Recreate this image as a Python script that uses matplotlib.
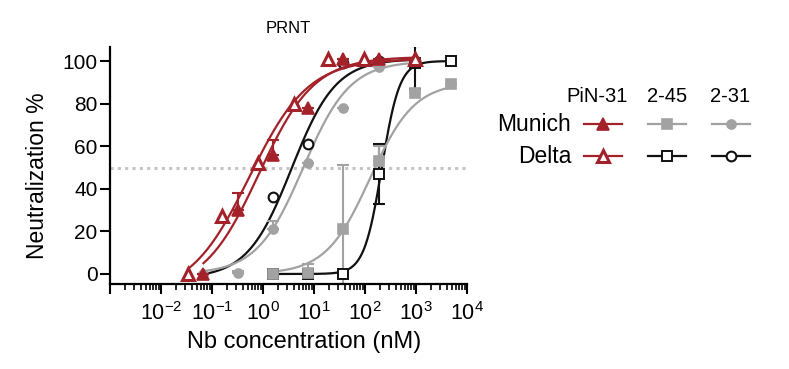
import numpy as np
import matplotlib
matplotlib.use('Agg')
import matplotlib.pyplot as plt
from matplotlib.lines import Line2D
from matplotlib.ticker import LogLocator, FuncFormatter, NullFormatter

plt.rcParams['font.family'] = ['Liberation Sans', 'DejaVu Sans']
plt.rcParams['mathtext.fontset'] = 'custom'
plt.rcParams['mathtext.rm'] = 'Liberation Sans'
plt.rcParams['mathtext.it'] = 'Liberation Sans:italic'

RED = '#a3222a'
GRAY = '#a2a2a2'
BLACK = '#111111'

# PiN-31
delta_pin_x = [0.034, 0.16, 0.79, 4.0, 19, 96, 960]
delta_pin_y = [0, 27, 52, 80, 101, 101, 101]
munich_pin_x = [0.068, 0.32, 1.55, 7.8, 37, 190, 960]
munich_pin_y = [0, 30, 56, 78, 101, 101, 101]
munich_pin_err = [0, 8, 7, 0, 0, 0, 0]

# 2-45
nb245_x = [1.55, 7.8, 37, 190, 960, 4800]
munich_245_y = [0, 0.5, 21, 53, 85, 89]
munich_245_lo = [0, 0, 30, 0, 0, 0]
munich_245_hi = [0, 4, 30, 7, 0, 0]
delta_245_y = [0, 0, 0, 47, 99, 100]
delta_245_lo = [0, 0, 0, 14, 12, 0]
delta_245_hi = [0, 0, 0, 14, 8, 0]

# 2-31
munich_231_x = [0.068, 0.32, 1.55, 7.8, 37, 190, 960]
munich_231_y = [0, 0.5, 21, 52, 78, 97, 100]
munich_231_err = [0, 1, 4, 0, 0, 0, 0]
delta_231_x = [1.55, 7.8, 37, 190, 960]
delta_231_y = [36, 61, 99, 100, 100]

# fitted 4PL curves: bottom, top, log10 IC50, hill slope, concentration range
fit_delta_pin = [-10, 101, -0.27, 0.75, 0.034, 960]
fit_munich_pin = [-8, 102, -0.08, 0.8, 0.068, 960]
fit_delta_231 = [-2, 101, 0.56, 1.0, 0.075, 960]
fit_munich_231 = [0, 100, 0.79, 0.95, 0.075, 960]
fit_munich_245 = [0, 90, 2.1, 1.0, 1.55, 4800]
fit_delta_245 = [0, 100, 2.33, 2.5, 1.55, 4800]


def four_pl(x, p):
    bottom, top, logc, hill = p[:4]
    return bottom + (top - bottom) / (1 + 10 ** (hill * (logc - np.log10(x))))


def draw_series(ax, x, y, fit, color, marker, face, ms, mew, z, lo=None, hi=None):
    xs = np.logspace(np.log10(fit[4]), np.log10(fit[5]), 300)
    ax.plot(xs, four_pl(xs, fit), color=color, lw=1.6, zorder=z)
    if hi is not None:
        lo = lo if lo is not None else [0] * len(hi)
        ax.errorbar(x, y, yerr=[lo, hi], fmt='none', ecolor=color,
                    elinewidth=1.5, capsize=4, capthick=1.5, zorder=z)
    ax.plot(x, y, ls='none', marker=marker, ms=ms, mfc=face, mec=color,
            mew=mew, zorder=z + 2)


fig = plt.figure(figsize=(7.89, 3.69), dpi=100)
ax = fig.add_axes([110 / 789, 1 - 284 / 369, 357 / 789, 237 / 369])

ax.axhline(50, color='#c4c4c4', lw=2.2, ls=(0, (1, 1.4)), zorder=1)

draw_series(ax, nb245_x, delta_245_y, fit_delta_245, BLACK, 's', 'white', 6.5, 1.4, 2.0,
            delta_245_lo, delta_245_hi)
draw_series(ax, delta_231_x, delta_231_y, fit_delta_231, BLACK, 'o', 'white', 7, 1.5, 2.0)
draw_series(ax, nb245_x, munich_245_y, fit_munich_245, GRAY, 's', GRAY, 6.5, 1.2, 2.1,
            munich_245_lo, munich_245_hi)
draw_series(ax, munich_231_x, munich_231_y, fit_munich_231, GRAY, 'o', GRAY, 6.5, 1.2, 2.1,
            None, munich_231_err)
draw_series(ax, munich_pin_x, munich_pin_y, fit_munich_pin, RED, '^', RED, 8.5, 1.2, 4.5,
            None, munich_pin_err)
draw_series(ax, delta_pin_x, delta_pin_y, fit_delta_pin, RED, '^', 'white', 8.5, 2.2, 4.5)

ax.set_xscale('log')
ax.set_xlim(1e-3, 1e4)
ax.set_ylim(-4.7, 106.6)
ax.set_yticks([0, 20, 40, 60, 80, 100])
ax.xaxis.set_major_locator(LogLocator(base=10, numticks=20))
ax.xaxis.set_minor_locator(LogLocator(base=10, subs=np.arange(2, 10), numticks=20))
ax.xaxis.set_minor_formatter(NullFormatter())
ax.xaxis.set_major_formatter(FuncFormatter(
    lambda v, pos: '' if v < 5e-3 else r'$\mathdefault{10^{%d}}$' % round(np.log10(v))))

for side in ['top', 'right']:
    ax.spines[side].set_visible(False)
for side in ['left', 'bottom']:
    ax.spines[side].set_linewidth(1.6)
ax.tick_params(axis='both', which='major', direction='out', length=7, width=1.5,
               labelsize=15, color='black')
ax.tick_params(axis='x', which='major', labelsize=15.5, pad=6)
ax.tick_params(axis='x', which='minor', direction='out', length=4, width=1.2)
ax.tick_params(axis='y', pad=2)

ax.set_xlabel('Nb concentration (nM)', fontsize=17)
ax.xaxis.set_label_coords(0.543, -0.2)
ax.set_ylabel('Neutralization %', fontsize=16.5)
ax.yaxis.set_label_coords(-0.17, 0.455)
ax.set_title('PRNT', fontsize=12, pad=10)

# legend laid out as a small table, like the original
def fx(px):
    return px / 789


def fy(py):
    return 1 - py / 369


headers = ['PiN-31', '2-45', '2-31']
header_x = [597, 667, 730]
for h, hx in zip(headers, header_x):
    fig.text(fx(hx), fy(97), h, fontsize=14.5, ha='center', va='center')
fig.text(fx(571), fy(124), 'Munich', fontsize=16.5, ha='right', va='center')
fig.text(fx(571), fy(156), 'Delta', fontsize=16.5, ha='right', va='center')

handle_styles = [
    (603, 124, RED, '^', RED, 8.5, 1.2),
    (603, 156, RED, '^', 'white', 8.5, 2.2),
    (667, 124, GRAY, 's', GRAY, 6.5, 1.2),
    (667, 156, BLACK, 's', 'white', 6.5, 1.4),
    (731, 124, GRAY, 'o', GRAY, 6.5, 1.2),
    (731, 156, BLACK, 'o', 'white', 7, 1.5),
]
for cx, cy, col, mk, face, ms, mew in handle_styles:
    fig.add_artist(Line2D([fx(cx - 19), fx(cx), fx(cx + 19)], [fy(cy)] * 3,
                          transform=fig.transFigure, color=col, lw=1.6,
                          marker=mk, markevery=[1], ms=ms, mfc=face, mec=col, mew=mew))

fig.savefig('out.png', dpi=100)
